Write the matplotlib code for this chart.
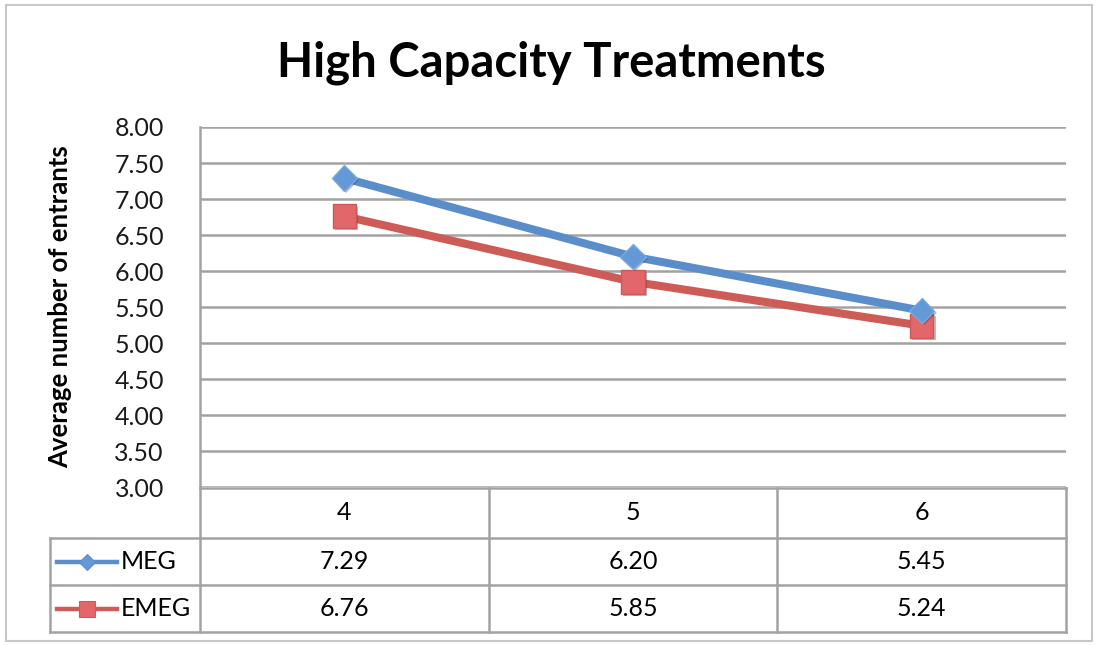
import matplotlib.pyplot as plt
import matplotlib.patheffects as pe
from matplotlib.patches import Rectangle

# data
categories = ['4', '5', '6']
meg = [7.29, 6.20, 5.45]
emeg = [6.76, 5.85, 5.24]
series_names = ['MEG', 'EMEG']
yticks = [3.0, 3.5, 4.0, 4.5, 5.0, 5.5, 6.0, 6.5, 7.0, 7.5, 8.0]

BLUE = '#5A8ECB'
BLUE_MK = '#6399D6'
RED = '#CD5B56'
RED_MK = '#E3676A'
GRID = '#a3a3a3'
FS = 18

plt.rcParams['font.family'] = ['Lato', 'DejaVu Sans']

W, H = 1098, 645
fig = plt.figure(figsize=(W / 100, H / 100), dpi=100)


def px(l, t, r, b):
    return [l / W, 1 - b / H, (r - l) / W, (b - t) / H]


# outer frame of the chart
fig.patches.append(Rectangle((6 / W, 4 / H), 1086 / W, 636 / H, transform=fig.transFigure,
                             fill=False, edgecolor='#c8c8c8', lw=1.5))

fig.text(551 / W, 1 - 63 / H, 'High Capacity Treatments', ha='center', va='center',
         fontsize=34, fontweight='bold', color='black')

# main plot
ax = fig.add_axes(px(200, 127, 1066, 487))
x = [i + 0.5 for i in range(len(categories))]
shadow = [pe.SimplePatchShadow(offset=(1.5, -1.5), alpha=0.3), pe.Normal()]
ax.plot(x, meg, color=BLUE, lw=5.8, zorder=3)
ax.plot(x, emeg, color=RED, lw=5.8, zorder=3)
ax.plot(x, meg, ls='none', marker='D', ms=13, mfc=BLUE_MK, mec='#7aa8e0',
        mew=1, path_effects=shadow, zorder=5)
ax.plot(x, emeg, ls='none', marker='s', ms=17, mfc=RED_MK, mec='#c95a5a',
        mew=1, path_effects=shadow, zorder=4)
ax.set_xlim(0, 3)
ax.set_ylim(3, 8)
ax.set_yticks(yticks)
ax.set_yticklabels(['%.2f' % v for v in yticks])
ax.set_xticks([])
ax.tick_params(axis='y', length=0, pad=26, labelsize=FS, labelcolor='#1a1a1a')
ax.grid(axis='y', color=GRID, lw=1.8)
for s in ['top', 'right', 'bottom']:
    ax.spines[s].set_visible(False)
ax.spines['left'].set_color(GRID)
ax.spines['left'].set_linewidth(1.8)
ax.set_ylabel('Average number of entrants', fontsize=18.5, fontweight='bold')
ax.yaxis.set_label_coords((72 - 200) / 866, 0.5)

# data table below the plot
left_col = 150 / (866 / 3)
tab = fig.add_axes(px(50, 488, 1066, 632))
tab.set_xlim(-left_col, 3)
rows = [0, 50, 97, 144]
tab.set_ylim(rows[-1], rows[0])
tab.axis('off')
lk = dict(color=GRID, lw=1.8, clip_on=False)
tab.plot([0, 3], [rows[0], rows[0]], **lk)
for r in rows[1:]:
    tab.plot([-left_col, 3], [r, r], **lk)
tab.plot([-left_col, -left_col], [rows[1], rows[-1]], **lk)
for i in range(len(categories) + 1):
    tab.plot([i, i], [rows[0], rows[-1]], **lk)

for i, c in enumerate(categories):
    tab.text(i + 0.5, (rows[0] + rows[1]) / 2, c, ha='center', va='center', fontsize=FS)
    tab.text(i + 0.5, (rows[1] + rows[2]) / 2, '%.2f' % meg[i], ha='center', va='center',
             fontsize=FS)
    tab.text(i + 0.5, (rows[2] + rows[3]) / 2, '%.2f' % emeg[i], ha='center', va='center',
             fontsize=FS)

# legend keys inside the table
keys = [(BLUE, BLUE_MK, 'D', 8), (RED, RED_MK, 's', 11)]
for k, (lc, mc, mk, ms) in enumerate(keys):
    yc = (rows[k + 1] + rows[k + 2]) / 2
    x0 = -left_col + 7 / 288.7
    x1 = -left_col + 67 / 288.7
    tab.plot([x0, x1], [yc, yc], color=lc, lw=3.2, clip_on=False)
    tab.plot([(x0 + x1) / 2], [yc], marker=mk, ms=ms, color=mc, mec=lc, mew=0.8,
             clip_on=False)
    tab.text(x1 + 4 / 288.7, yc, series_names[k], ha='left', va='center', fontsize=FS)

fig.savefig('out.png', dpi=100)
